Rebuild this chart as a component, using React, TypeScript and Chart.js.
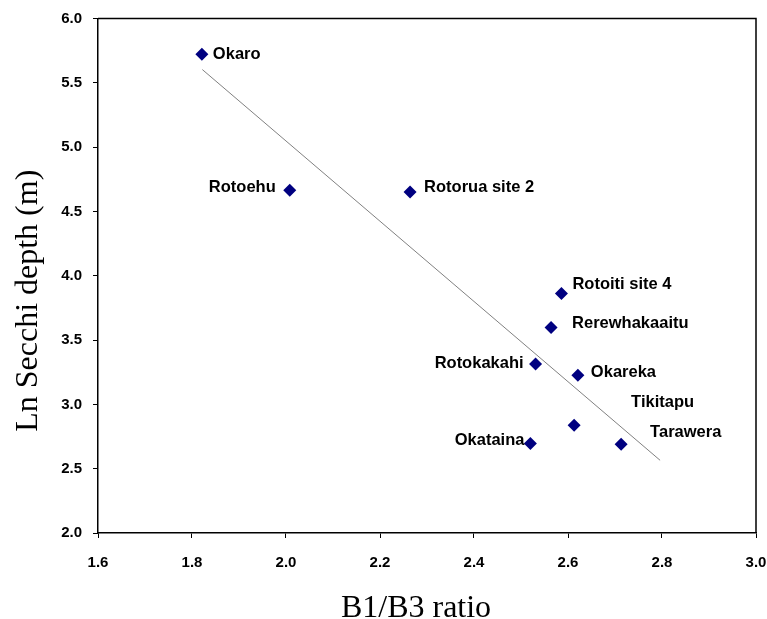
import React, { useEffect, useRef } from 'react';
import { Chart, registerables } from 'chart.js';

Chart.register(...registerables);

const lakeNames = [
  'Okaro',
  'Rotoehu',
  'Rotorua site 2',
  'Rotoiti site 4',
  'Rerewhakaaitu',
  'Rotokakahi',
  'Okareka',
  'Tikitapu',
  'Okataina',
  'Tarawera',
];
const b1b3Ratio = [1.821, 2.008, 2.264, 2.586, 2.564, 2.531, 2.621, 2.613, 2.52, 2.713];
const lnSecchiDepth = [5.722, 4.665, 4.652, 3.862, 3.597, 3.314, 3.226, 2.837, 2.695, 2.69];
const trendRatio = [1.822, 2.796];
const trendDepth = [5.603, 2.565];
const xTickValues = [1.6, 1.8, 2.0, 2.2, 2.4, 2.6, 2.8, 3.0];
const yTickValues = [2.0, 2.5, 3.0, 3.5, 4.0, 4.5, 5.0, 5.5, 6.0];
const xTitle = 'B1/B3 ratio';
const yTitle = 'Ln Secchi depth (m)';

// label placement (pixel offsets from each marker, alignment)
const labelPlacement: { dx: number; dy: number; align: CanvasTextAlign }[] = [
  { dx: 11, dy: 0, align: 'left' },
  { dx: -14, dy: -3, align: 'right' },
  { dx: 14, dy: -4, align: 'left' },
  { dx: 11, dy: -9, align: 'left' },
  { dx: 21, dy: -4, align: 'left' },
  { dx: -12, dy: -1, align: 'right' },
  { dx: 13, dy: -3, align: 'left' },
  { dx: 57, dy: -23, align: 'left' },
  { dx: -6, dy: -3, align: 'right' },
  { dx: 29, dy: -12, align: 'left' },
];

const LABEL_FONT = 'bold 16.5px "Liberation Sans", Arial, sans-serif';
const TICK_FONT = { family: '"Liberation Sans", Arial, sans-serif', size: 15, weight: 'bold' as const };
const TITLE_FONT = '32px "Liberation Serif", "Times New Roman", serif';

const decorPlugin = {
  id: 'decor',
  afterDatasetsDraw(chart: any) {
    const ctx = chart.ctx as CanvasRenderingContext2D;
    const ca = chart.chartArea;
    ctx.save();
    // top and right frame lines
    ctx.strokeStyle = '#000';
    ctx.lineWidth = 1.5;
    ctx.beginPath();
    ctx.moveTo(ca.left, ca.top);
    ctx.lineTo(ca.right, ca.top);
    ctx.lineTo(ca.right, ca.bottom);
    ctx.stroke();

    // point labels
    const meta = chart.getDatasetMeta(0);
    ctx.font = LABEL_FONT;
    ctx.fillStyle = '#000';
    ctx.textBaseline = 'middle';
    meta.data.forEach((el: any, i: number) => {
      const p = labelPlacement[i];
      ctx.textAlign = p.align;
      ctx.fillText(lakeNames[i], el.x + p.dx, el.y + p.dy);
    });

    // axis titles
    ctx.font = TITLE_FONT;
    ctx.textAlign = 'center';
    ctx.textBaseline = 'alphabetic';
    ctx.fillText(xTitle, (ca.left + ca.right) / 2 - 11, 616.5);
    ctx.save();
    ctx.translate(37, (ca.top + ca.bottom) / 2 + 25);
    ctx.rotate(-Math.PI / 2);
    ctx.fillText(yTitle, 0, 0);
    ctx.restore();
    ctx.restore();
  },
};

export default function App() {
  const canvasRef = useRef<HTMLCanvasElement | null>(null);

  useEffect(() => {
    if (!canvasRef.current) return;
    const chart = new Chart(canvasRef.current, {
      type: 'scatter',
      data: {
        datasets: [
          {
            label: 'Lakes',
            data: b1b3Ratio.map((x, i) => ({ x, y: lnSecchiDepth[i] })),
            pointStyle: 'rectRot',
            pointRadius: 6.5,
            pointHoverRadius: 6.5,
            backgroundColor: '#000080',
            borderColor: '#000080',
            borderWidth: 0,
            order: 1,
          },
          {
            label: 'Trend',
            type: 'line',
            data: trendRatio.map((x, i) => ({ x, y: trendDepth[i] })),
            showLine: true,
            borderColor: '#808080',
            borderWidth: 1,
            pointRadius: 0,
            fill: false,
            order: 2,
          } as any,
        ],
      },
      options: {
        responsive: false,
        animation: false,
        layout: { padding: { left: 0, right: 11, top: 18.5, bottom: 0 } },
        plugins: {
          legend: { display: false },
          tooltip: { enabled: false },
        },
        scales: {
          x: {
            type: 'linear',
            min: 1.6,
            max: 3.0,
            afterBuildTicks: (s: any) => {
              s.ticks = xTickValues.map((v) => ({ value: v }));
            },
            afterFit: (s: any) => {
              s.height = 86;
              s.paddingLeft = 0;
              s.paddingRight = 0;
            },
            grid: { drawOnChartArea: false, drawTicks: true, tickLength: 5, color: '#000', lineWidth: 1 },
            border: { display: true, color: '#000', width: 1.5 },
            ticks: {
              color: '#000',
              font: TICK_FONT,
              padding: 16,
              maxRotation: 0,
              autoSkip: false,
              callback: (v: any) => Number(v).toFixed(1),
            },
          },
          y: {
            type: 'linear',
            min: 2.0,
            max: 6.0,
            afterBuildTicks: (s: any) => {
              s.ticks = yTickValues.map((v) => ({ value: v }));
            },
            afterFit: (s: any) => {
              s.width = 98;
              s.paddingTop = 0;
              s.paddingBottom = 0;
            },
            grid: { drawOnChartArea: false, drawTicks: true, tickLength: 5, color: '#000', lineWidth: 1 },
            border: { display: true, color: '#000', width: 1.5 },
            ticks: {
              color: '#000',
              font: TICK_FONT,
              padding: 11,
              autoSkip: false,
              callback: (v: any) => Number(v).toFixed(1),
            },
          },
        },
      },
      plugins: [decorPlugin],
    });
    return () => chart.destroy();
  }, []);

  return (
    <div style={{ position: 'fixed', left: 0, top: 0, width: 767, height: 619, background: '#fff' }}>
      <canvas ref={canvasRef} width={767} height={619} style={{ display: 'block' }} />
    </div>
  );
}
